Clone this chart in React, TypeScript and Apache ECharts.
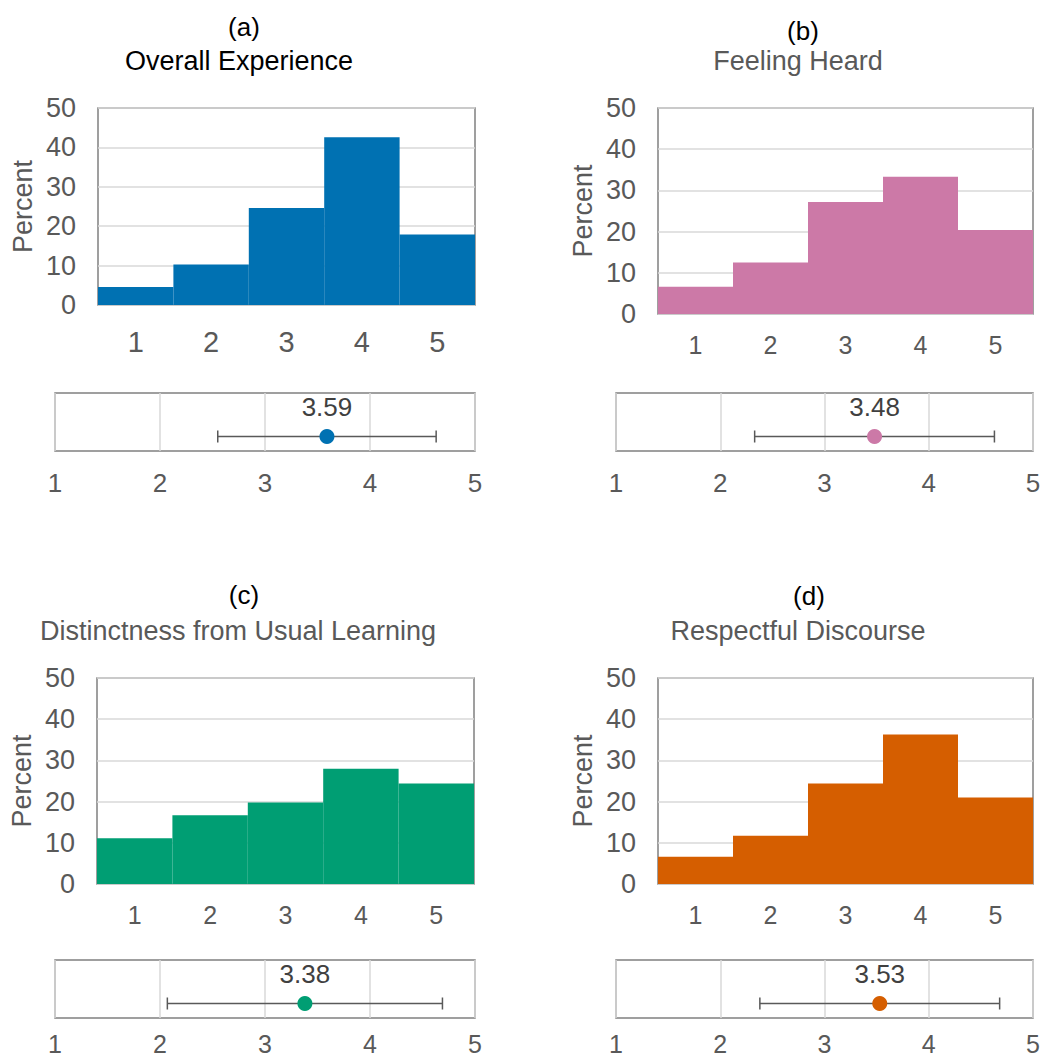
import React, { useEffect, useRef } from "react";
import * as echarts from "echarts";

const categories = ["1", "2", "3", "4", "5"];
const overallPct = [4.6, 10.3, 24.6, 42.6, 17.9];
const heardPct = [6.6, 12.5, 27.2, 33.3, 20.4];
const distinctPct = [11.1, 16.7, 19.8, 28.0, 24.4];
const respectPct = [6.6, 11.7, 24.4, 36.3, 21.0];

const panelLetters = ["(a)", "(b)", "(c)", "(d)"];
const panelTitles = ["Overall Experience", "Feeling Heard", "Distinctness from Usual Learning", "Respectful Discourse"];
const means = [3.59, 3.48, 3.38, 3.53];
const sds = [1.04, 1.15, 1.31, 1.15];
const scaleTicks = [1, 5];

const histData = [overallPct, heardPct, distinctPct, respectPct];
const colors = ["#0071B2", "#CC79A7", "#009E73", "#D55E00"];

const FONT = "Liberation Sans, Arial, Helvetica, sans-serif";
const GRAY = "#595959";

// layout
const histGrids = [
  { left: 98, top: 108, width: 377, height: 197 },
  { left: 658, top: 108, width: 375, height: 206 },
  { left: 97, top: 678, width: 377, height: 206 },
  { left: 658, top: 678, width: 375, height: 206 },
];
const dotGrids = [
  { left: 55, top: 393, width: 420, height: 58 },
  { left: 616, top: 393, width: 417, height: 58 },
  { left: 55, top: 960, width: 420, height: 58 },
  { left: 616, top: 960, width: 417, height: 58 },
];
const letterPos = [
  { x: 244, y: 14 },
  { x: 803, y: 18 },
  { x: 244, y: 582 },
  { x: 809, y: 583 },
];
const titlePos = [
  { x: 239, y: 47 },
  { x: 798, y: 47 },
  { x: 238, y: 617 },
  { x: 798, y: 617 },
];
const xLabelSize = [29, 25, 25, 25];
const xLabelMargin = [22, 18, 18, 18];
const dotLabelSize = [26, 26, 25, 25];
const dotLabelMargin = [19, 19, 13, 13];

export default function App() {
  const ref = useRef<HTMLDivElement>(null);
  useEffect(() => {
    if (!ref.current) return;
    const chart = echarts.init(ref.current, undefined, { renderer: "svg" });

    const grid: any[] = [];
    const xAxis: any[] = [];
    const yAxis: any[] = [];
    const series: any[] = [];
    const title: any[] = [];

    for (let i = 0; i < 4; i++) {
      grid.push({
        ...histGrids[i],
        show: true,
        borderColor: "#808080",
        borderWidth: 1.5,
        containLabel: false,
      });
    }
    for (let i = 0; i < 4; i++) {
      grid.push({
        ...dotGrids[i],
        show: true,
        borderColor: "#808080",
        borderWidth: 1.5,
        containLabel: false,
      });
    }

    for (let i = 0; i < 4; i++) {
      xAxis.push({
        type: "category",
        gridIndex: i,
        data: categories,
        axisLine: { show: false },
        axisTick: { show: false },
        axisLabel: { fontSize: xLabelSize[i], color: GRAY, fontFamily: FONT, margin: xLabelMargin[i] },
        splitLine: { show: false },
      });
      yAxis.push({
        type: "value",
        gridIndex: i,
        min: 0,
        max: 50,
        interval: 10,
        name: "Percent",
        nameLocation: "middle",
        nameRotate: 90,
        nameGap: 62,
        nameTextStyle: { fontSize: 27, color: GRAY, fontFamily: FONT },
        axisLine: { show: false },
        axisTick: { show: false },
        axisLabel: { fontSize: 27, color: GRAY, fontFamily: FONT, margin: 22 },
        splitLine: { show: true, lineStyle: { color: "#d9d9d9", width: 1.5 } },
      });
      series.push({
        type: "bar",
        xAxisIndex: i,
        yAxisIndex: i,
        data: histData[i],
        barCategoryGap: "0%",
        itemStyle: { color: colors[i] },
        silent: true,
      });
    }

    for (let i = 0; i < 4; i++) {
      const gi = 4 + i;
      xAxis.push({
        type: "value",
        gridIndex: gi,
        min: scaleTicks[0],
        max: scaleTicks[1],
        interval: 1,
        axisLine: { show: false },
        axisTick: { show: false },
        axisLabel: { fontSize: dotLabelSize[i], color: GRAY, fontFamily: FONT, margin: dotLabelMargin[i] },
        splitLine: { show: true, lineStyle: { color: "#d9d9d9", width: 1.5 } },
      });
      yAxis.push({
        type: "value",
        gridIndex: gi,
        min: 0,
        max: 1,
        show: false,
        splitLine: { show: false },
      });
      series.push({
        type: "custom",
        xAxisIndex: gi,
        yAxisIndex: gi,
        data: [[means[i] - sds[i], means[i] + sds[i], 0.25]],
        renderItem: (params: any, api: any) => {
          const lo = api.coord([api.value(0), api.value(2)]);
          const hi = api.coord([api.value(1), api.value(2)]);
          const cap = 6;
          const st = { stroke: GRAY, lineWidth: 1.5 };
          return {
            type: "group",
            children: [
              { type: "line", shape: { x1: lo[0], y1: lo[1], x2: hi[0], y2: hi[1] }, style: st },
              { type: "line", shape: { x1: lo[0], y1: lo[1] - cap, x2: lo[0], y2: lo[1] + cap }, style: st },
              { type: "line", shape: { x1: hi[0], y1: hi[1] - cap, x2: hi[0], y2: hi[1] + cap }, style: st },
            ],
          };
        },
        silent: true,
        z: 2,
      });
      series.push({
        type: "scatter",
        xAxisIndex: gi,
        yAxisIndex: gi,
        data: [[means[i], 0.25]],
        symbol: "circle",
        symbolSize: 15,
        itemStyle: { color: colors[i], opacity: 1 },
        label: {
          show: true,
          position: "top",
          distance: 9,
          formatter: () => means[i].toFixed(2),
          fontSize: 26,
          color: "#404040",
          fontFamily: FONT,
        },
        silent: true,
        z: 3,
      });

      title.push({
        text: panelLetters[i],
        left: letterPos[i].x,
        top: letterPos[i].y,
        textAlign: "center",
        padding: 0,
        textStyle: { fontSize: 26, color: "#000000", fontWeight: "normal", fontFamily: FONT },
      });
      title.push({
        text: panelTitles[i],
        left: titlePos[i].x,
        top: titlePos[i].y,
        textAlign: "center",
        padding: 0,
        textStyle: { fontSize: 27, color: i === 0 ? "#000000" : GRAY, fontWeight: "normal", fontFamily: FONT },
      });
    }

    chart.setOption({
      animation: false,
      backgroundColor: "#ffffff",
      textStyle: { fontFamily: FONT },
      title,
      grid,
      xAxis,
      yAxis,
      series,
    });
    return () => chart.dispose();
  }, []);

  return (
    <div
      ref={ref}
      style={{ position: "absolute", left: 0, top: 0, width: 1045, height: 1059 }}
    />
  );
}
